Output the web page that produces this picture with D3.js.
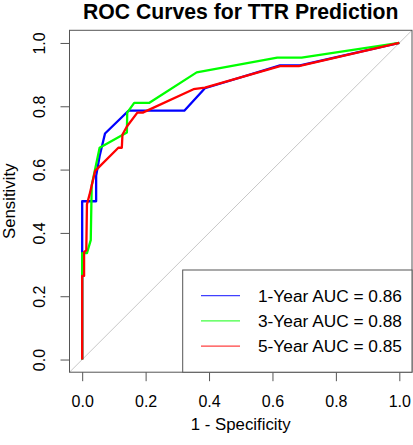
<!DOCTYPE html>
<html><head><meta charset="utf-8">
<script src="https://cdn.jsdelivr.net/npm/d3@7"></script>
<style>body{margin:0;background:#fff}svg{display:block;font-family:"Liberation Sans",Arial,sans-serif}</style>
</head><body>
<svg id="c" width="413" height="445"></svg>
<script>
const titleText = "ROC Curves for TTR Prediction";
const xLabel = "1 - Specificity";
const yLabel = "Sensitivity";
const tickValues = [0, 0.2, 0.4, 0.6, 0.8, 1.0];
const seriesNames = ["1-Year AUC = 0.86", "3-Year AUC = 0.88", "5-Year AUC = 0.85"];
const seriesColors = ["#0000ff", "#00ff00", "#ff0000"];
const fpr1 = [0, 0, 0.044, 0.044, 0.055, 0.072, 0.146, 0.322, 0.387, 0.624, 0.687, 1];
const tpr1 = [0, 0.5, 0.5, 0.58, 0.643, 0.714, 0.786, 0.786, 0.857, 0.929, 0.929, 1];
const fpr3 = [0, 0, 0.015, 0.027, 0.03, 0.055, 0.141, 0.142, 0.164, 0.212, 0.361, 0.615, 0.692, 1];
const tpr3 = [0, 0.336, 0.336, 0.377, 0.55, 0.669, 0.717, 0.78, 0.811, 0.811, 0.907, 0.954, 0.954, 1];
const fpr5 = [0, 0, 0.006, 0.006, 0.013, 0.015, 0.023, 0.041, 0.114, 0.125, 0.127, 0.141, 0.174, 0.191, 0.351, 0.387, 0.624, 0.683, 1];
const tpr5 = [0, 0.264, 0.264, 0.34, 0.345, 0.49, 0.52, 0.596, 0.669, 0.669, 0.711, 0.736, 0.78, 0.78, 0.854, 0.859, 0.927, 0.927, 1];

const svg = d3.select("#c");
const x = d3.scaleLinear().domain([-0.04, 1.04]).range([69.5, 412]);
const y = d3.scaleLinear().domain([-0.04, 1.04]).range([372.2, 30.3]);
const fs = 16;

// diagonal
svg.append("line").attr("x1", x(-0.04)).attr("y1", y(-0.04)).attr("x2", x(1.04)).attr("y2", y(1.04))
  .attr("stroke", "#c8c8c8").attr("stroke-width", 1);

const line = d3.line().x(d => x(d[0])).y(d => y(d[1]));
const series = [[fpr1, tpr1], [fpr3, tpr3], [fpr5, tpr5]];
series.forEach((s, i) => {
  const pts = s[0].map((f, j) => [f, s[1][j]]);
  svg.append("path").attr("d", line(pts)).attr("fill", "none")
    .attr("stroke", seriesColors[i]).attr("stroke-width", 2.3).attr("stroke-linejoin", "round");
});

// box
svg.append("rect").attr("x", x(-0.04)).attr("y", y(1.04)).attr("width", x(1.04) - x(-0.04)).attr("height", y(-0.04) - y(1.04))
  .attr("fill", "none").attr("stroke", "#555").attr("stroke-width", 1);

// x axis
const xa = svg.append("g").attr("transform", `translate(0,${y(-0.04)})`)
  .call(d3.axisBottom(x).tickValues(tickValues).tickFormat(d3.format(".1f")).tickSize(9).tickPadding(14));
xa.select(".domain").remove();
xa.selectAll("line").attr("stroke", "#555");
xa.selectAll("text").attr("font-size", fs).attr("font-family", "Liberation Sans, Arial").attr("fill", "#000");

// y axis
const ya = svg.append("g").attr("transform", `translate(${x(-0.04)},0)`)
  .call(d3.axisLeft(y).tickValues(tickValues).tickFormat(d3.format(".1f")).tickSize(9).tickPadding(0));
ya.select(".domain").remove();
ya.selectAll("line").attr("stroke", "#555");
ya.selectAll("text").attr("font-size", fs).attr("font-family", "Liberation Sans, Arial").attr("fill", "#000")
  .attr("x", null).attr("dy", null)
  .attr("transform", "translate(-25,0) rotate(-90)").attr("text-anchor", "middle").attr("y", 0);

// titles
svg.append("text").attr("x", (x(-0.04) + x(1.04)) / 2).attr("y", 18.5).attr("text-anchor", "middle")
  .attr("font-size", 21.2).attr("font-weight", "bold").text(titleText);
svg.append("text").attr("x", (x(-0.04) + x(1.04)) / 2).attr("y", 430).attr("text-anchor", "middle")
  .attr("font-size", 16.8).text(xLabel);
svg.append("text").attr("transform", `translate(14.5,${(y(-0.04) + y(1.04)) / 2}) rotate(-90)`).attr("text-anchor", "middle")
  .attr("font-size", 16.8).text(yLabel);

// legend
const lx0 = 182.7, ly0 = 270, lx1 = x(1.04), ly1 = y(-0.04);
svg.append("rect").attr("x", lx0).attr("y", ly0).attr("width", lx1 - lx0).attr("height", ly1 - ly0)
  .attr("fill", "#fff").attr("stroke", "#555").attr("stroke-width", 1);
seriesNames.forEach((n, i) => {
  const yy = 295.7 + i * 25.2;
  svg.append("line").attr("x1", 201).attr("x2", 240).attr("y1", yy).attr("y2", yy)
    .attr("stroke", seriesColors[i]).attr("stroke-width", 1.3).attr("stroke-opacity", 0.75);
  svg.append("text").attr("x", 258).attr("y", yy + 6.1).attr("font-size", 17.3).text(n);
});
</script>
</body></html>
